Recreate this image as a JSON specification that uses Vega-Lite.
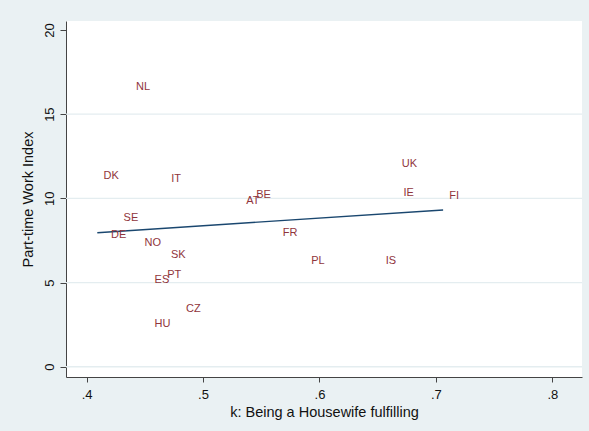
{
  "$schema": "https://vega.github.io/schema/vega-lite/v6.json",
  "width": 516,
  "height": 356,
  "autosize": "none",
  "padding": {"left": 66, "top": 21, "right": 7, "bottom": 54},
  "background": "#eaf1f3",
  "config": {
    "view": {"fill": "white", "stroke": null},
    "font": "Liberation Sans",
    "axis": {
      "domainColor": "#444444",
      "domainWidth": 1,
      "tickColor": "#444444",
      "tickWidth": 1,
      "labelColor": "#111111",
      "titleColor": "#111111",
      "labelFont": "Liberation Sans",
      "titleFont": "Liberation Sans",
      "labelFontSize": 13,
      "titleFontSize": 14.5,
      "titleFontWeight": "normal",
      "grid": false
    }
  },
  "datasets": {
    "countries": [
      {"code": "NL", "x": 0.4373, "y": 16.62},
      {"code": "DK", "x": 0.4094, "y": 11.33},
      {"code": "IT", "x": 0.4676, "y": 11.15},
      {"code": "AT", "x": 0.5319, "y": 9.85},
      {"code": "BE", "x": 0.5405, "y": 10.2},
      {"code": "UK", "x": 0.6656, "y": 12.04},
      {"code": "IE", "x": 0.667, "y": 10.32},
      {"code": "FI", "x": 0.7064, "y": 10.14},
      {"code": "SE", "x": 0.4266, "y": 8.83},
      {"code": "DE", "x": 0.4158, "y": 7.82},
      {"code": "NO", "x": 0.4446, "y": 7.35},
      {"code": "FR", "x": 0.5634, "y": 7.94},
      {"code": "SK", "x": 0.4673, "y": 6.63},
      {"code": "PL", "x": 0.5877, "y": 6.28},
      {"code": "IS", "x": 0.6518, "y": 6.28},
      {"code": "PT", "x": 0.4641, "y": 5.45},
      {"code": "ES", "x": 0.4532, "y": 5.15},
      {"code": "CZ", "x": 0.4802, "y": 3.43},
      {"code": "HU", "x": 0.4532, "y": 2.53}
    ],
    "fit": [
      {"x": 0.4092, "y": 7.96},
      {"x": 0.7062, "y": 9.31}
    ],
    "gridlines": [
      {"y": 0}, {"y": 5}, {"y": 10}, {"y": 15}
    ]
  },
  "layer": [
    {
      "data": {"name": "gridlines"},
      "mark": {"type": "rule", "color": "#e4edf0", "strokeWidth": 1.3},
      "encoding": {
        "y": {"field": "y", "type": "quantitative", "title": "Part-time Work Index"}
      }
    },
    {
      "data": {"name": "fit"},
      "mark": {"type": "line", "color": "#1a476f", "strokeWidth": 1.4},
      "encoding": {
        "x": {"field": "x", "type": "quantitative", "title": "k: Being a Housewife fulfilling"},
        "y": {"field": "y", "type": "quantitative", "title": "Part-time Work Index"}
      }
    },
    {
      "data": {"name": "countries"},
      "mark": {"type": "text", "align": "left", "baseline": "middle", "dx": 6, "font": "Liberation Sans", "fontSize": 11, "color": "#90353b"},
      "encoding": {
        "x": {
          "field": "x", "type": "quantitative",
          "scale": {"domain": [0.3823, 0.8255], "nice": false, "zero": false},
          "axis": {
            "title": "k: Being a Housewife fulfilling",
            "values": [0.4, 0.5, 0.6, 0.7, 0.8],
            "labelExpr": "replace(format(datum.value, '.1f'), '0.', '.')",
            "tickSize": 5,
            "labelPadding": 6,
            "titlePadding": 4
          }
        },
        "y": {
          "field": "y", "type": "quantitative",
          "scale": {"domain": [-0.61, 20.53], "nice": false, "zero": false},
          "axis": {
            "title": "Part-time Work Index",
            "values": [0, 5, 10, 15, 20],
            "labelAngle": -90,
            "labelAlign": "center",
            "labelBaseline": "bottom",
            "tickSize": 6,
            "labelPadding": 4,
            "titlePadding": 8
          }
        },
        "text": {"field": "code"}
      }
    }
  ]
}
